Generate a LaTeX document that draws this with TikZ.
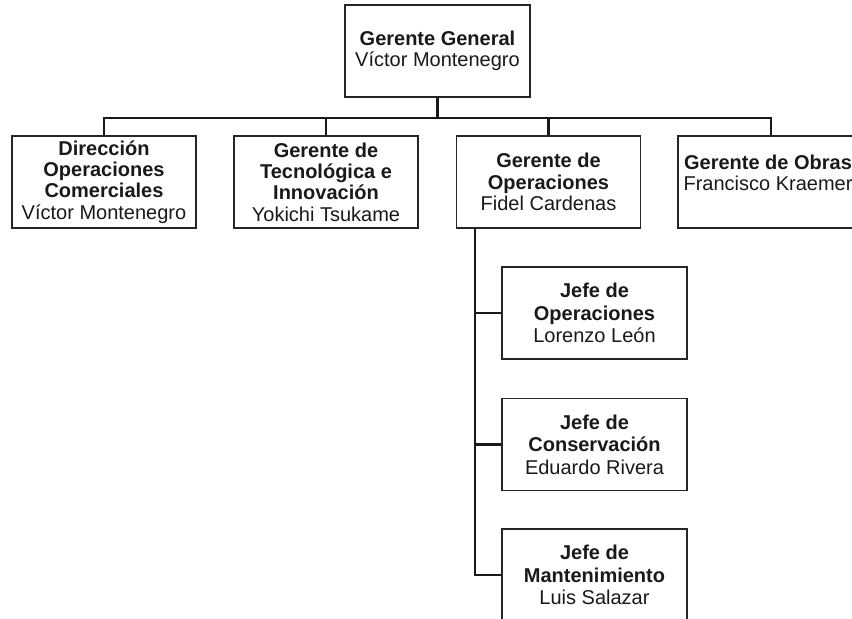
\documentclass[tikz,border=0pt]{standalone}
\usepackage{fontspec}
\setmainfont{Liberation Sans}
\begin{document}
\begin{tikzpicture}[x=1bp,y=-1bp,
  box/.style={draw=black!85, line width=1.4bp, fill=white, align=center, inner sep=0pt,
    minimum width=184bp, minimum height=92bp, text=black!90,
    font=\fontsize{20bp}{21.3bp}\selectfont},
  jbox/.style={box, minimum width=185bp, font=\fontsize{20bp}{22.5bp}\selectfont},
  conn/.style={draw=black!90, line width=2.2bp}]
\useasboundingbox (0,0) rectangle (852,619);
\clip (0,0) rectangle (852,619);
\node[box, minimum width=185bp] (gg) at (437.5,51) {\textbf{Gerente General}\\Víctor Montenegro};
\node[box] (c1) at (104,182) {\textbf{Dirección}\\\textbf{Operaciones}\\\textbf{Comerciales}\\Víctor Montenegro};
\node[box] (c2) at (326,182) {\textbf{Gerente de}\\\textbf{Tecnológica e}\\\textbf{Innovación}\\Yokichi Tsukame};
\node[box] (c3) at (548.5,182) {\textbf{Gerente de}\\\textbf{Operaciones}\\Fidel Cardenas};
\node[box, minimum width=186bp] (c4) at (771,182) {};
\node[align=center, inner sep=0pt, text=black!90, font=\fontsize{20bp}{21.3bp}\selectfont] (c4t) at (768,173) {\textbf{Gerente de Obras}\\Francisco Kraemer};
\node[jbox] (j1) at (594.5,313) {\textbf{Jefe de}\\\textbf{Operaciones}\\Lorenzo León};
\node[jbox] (j2) at (594.5,444.5) {\textbf{Jefe de}\\\textbf{Conservación}\\Eduardo Rivera};
\node[jbox] (j3) at (594.5,575) {\textbf{Jefe de}\\\textbf{Mantenimiento}\\Luis Salazar};
\coordinate (bar) at (437.5,118);
\draw[conn] (gg.south) -- (bar);
\draw[conn] (bar) -| (c1.north);
\draw[conn] (bar) -| (c2.north);
\draw[conn] (bar) -| (c3.north);
\draw[conn] (bar) -| (c4.north);
\coordinate (trunk) at (475,228);
\draw[conn] (trunk) |- (j1.west);
\draw[conn] (trunk) |- (j2.west);
\draw[conn] (trunk) |- (j3.west);
\end{tikzpicture}
\end{document}
